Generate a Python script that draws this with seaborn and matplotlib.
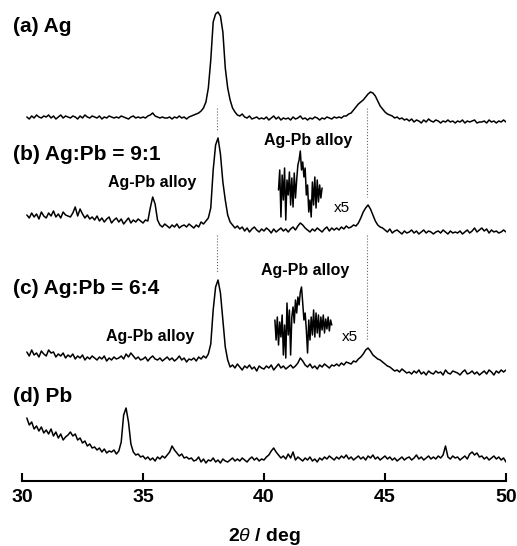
import numpy as np
import matplotlib
matplotlib.use("Agg")
import matplotlib.pyplot as plt
import seaborn as sns

# ---------------------------------- Data ----------------------------------

# 2theta scan grid (deg), 0.1 deg steps
two_theta = np.round(np.arange(302, 501) / 10, 1)

# intensities (a.u.), one row per degree
ag = [3, 1, 4, 2, 5, 3, 2, 4,
      3, 5, 2, 4, 1, 3, 5, 2, 4, 3,
      2, 4, 3, 1, 4, 2, 5, 3, 2, 4,
      3, 2, 4, 1, 3, 2, 4, 3, 2, 3,
      2, 4, 3, 2, 1, 3, 4, 2, 3, 2,
      3, 2, 4, 5, 7, 4, 3, 2, 3, 2,
      2, 3, 1, 3, 2, 4, 2, 3, 1, 3,
      4, 5, 6, 7, 9, 12, 18, 32, 60, 98,
      106, 108, 104, 88, 52, 32, 20, 12, 8, 5,
      4, 6, 3, 2, 4, 1, 2, 3, 1, 2,
      1, 3, 0, 2, 4, 1, 3, 0, 2, 1,
      2, 0, 3, 1, 2, 4, 1, 2, 0, 2,
      1, 3, 2, 0, 2, 1, 3, 2, 1, 3,
      2, 3, 2, 4, 4, 6, 7, 10, 13, 16,
      18, 20, 23, 26, 28, 27, 24, 19, 14, 11,
      8, 6, 5, 4, 2, 3, 1, 2, 0, 1,
      -1, 1, -2, 0, -1, -3, 0, -2, 1, -1,
      -2, 0, -1, -3, -1, -2, 0, -2, -1, -3,
      -1, -2, 0, -3, -1, -2, -1, 0, -3, -2,
      -2, -1, -3, 0, -2, -1, -3, -1, -2, 0,
      -2]

agpb91 = [15, 12, 17, 13, 16, 11, 18, 14,
          12, 17, 14, 19, 13, 16, 12, 18, 15, 14,
          13, 17, 23, 14, 21, 16, 12, 15, 11, 13,
          10, 14, 9, 12, 8, 11, 13, 7, 10, 12,
          8, 11, 6, 9, 12, 7, 10, 8, 11, 9,
          7, 10, 9, 22, 33, 26, 10, 5, 3, 6,
          4, 2, 5, 3, 6, 2, 4, 5, 3, 6,
          4, 2, 5, 3, 8, 6, 9, 12, 22, 60,
          85, 92, 76, 48, 30, 15, 8, 5, 2, 4,
          1, 3, -1, 2, -2, 1, 3, 0, -2, 1,
          -1, 2, 0, -3, 1, -2, 0, 2, -1, 1,
          -2, 1, 3, 0, 4, 7, 5, 2, 0, -2,
          1, -1, 2, 0, -2, 1, 3, -1, 2, 0,
          2, 0, 3, 1, 4, 2, 3, 5, 4, 7,
          12, 18, 22, 25, 21, 15, 9, 5, 3, 2,
          0, -2, 1, -3, -1, 0, -2, -4, -1, -3,
          -2, 0, -3, -1, -4, -2, 0, -3, -1, -2,
          -4, -2, -1, -3, 0, -2, -4, -1, -3, -2,
          -3, -1, -4, -2, 0, -3, -1, 2, -2, 0,
          2, -1, 1, -3, 0, -2, -1, -3, -2, 0,
          -2]

agpb64 = [16, 12, 18, 13, 15, 11, 17, 14,
          12, 18, 15, 16, 11, 14, 12, 15, 10, 13,
          11, 14, 9, 12, 10, 13, 8, 11, 9, 12,
          10, 8, 11, 9, 12, 7, 10, 8, 11, 9,
          10, 12, 9, 14, 11, 15, 12, 9, 11, 8,
          9, 11, 7, 10, 12, 9, 8, 10, 7, 9,
          11, 8, 10, 7, 9, 12, 8, 10, 6, 9,
          8, 10, 7, 11, 9, 12, 10, 14, 24, 58,
          81, 88, 75, 48, 21, 8, 1, 3, 0, 4,
          1, -2, 2, 0, 3, -1, 1, -3, 2, 0,
          -1, 2, 0, 3, -2, 1, 4, 0, 2, -1,
          1, 3, 0, 2, 5, 10, 7, 3, 1, 4,
          0, 2, -1, 3, 1, 4, 2, 0, 3, 2,
          4, 2, 5, 3, 6, 5, 4, 7, 6, 9,
          11, 14, 18, 20, 17, 13, 11, 9, 8, 6,
          4, 2, 1, -1, -3, -2, -4, -1, -3, -5,
          -4, -6, -3, -5, -2, -6, -4, -7, -3, -5,
          -6, -3, -5, -4, -7, -2, -5, -6, -3, -4,
          -5, -7, -4, -2, -6, -5, -3, -6, -4, -7,
          -5, -3, -6, -2, -4, -7, -3, -5, -2, -4,
          -2]

pb = [42, 35, 38, 31, 34, 29, 33, 27,
      30, 26, 31, 24, 28, 22, 26, 20, 23, 25,
      28, 24, 26, 20, 22, 17, 19, 14, 16, 12,
      13, 10, 12, 8, 11, 7, 9, 8, 10, 6,
      9, 18, 45, 52, 38, 16, 8, 5, 6, 3,
      4, 1, 3, 0, 2, -1, 3, 1, 4, 2,
      5, 8, 14, 10, 7, 4, 6, 2, 3, 1,
      2, -1, 0, 3, -2, 1, -3, 0, -1, 2,
      -2, 0, -3, 1, -1, -2, 0, 2, -1, 1,
      -1, 2, 0, -2, 1, 3, 0, 2, -1, 1,
      0, 3, 5, 9, 12, 8, 5, 2, 4, 1,
      6, 2, 8, 0, 3, 1, -1, 2, 0, 3,
      -1, 1, -2, 2, 0, 3, 1, 4, 2, 0,
      3, 1, 4, 2, 5, 1, 3, 0, 2, 4,
      1, 3, 0, 4, 2, 5, 1, 3, 0, 2,
      4, 1, 3, 0, 2, -1, 1, 3, 0, 2,
      3, 0, 2, 5, 1, 3, 0, 2, 4, 1,
      3, 1, 4, 2, 5, 14, 3, 1, 4, 2,
      3, 0, 2, 4, 1, 6, 8, 5, 7, 3,
      4, 1, 3, 0, 2, 4, 1, 3, 0, 2,
      -2]

# x5 magnified alloy region
zoom_91_x = np.round(np.arange(812, 849) / 20, 2)
zoom_91 = [0, 20, -27, 15, -10, 22, -30, 10, -5, 18,
           -15, 12, -17, 17, -8, 10, 25, 30, 39, 20,
           28, 13, 22, -5, 5, -22, -10, -27, 8, -15,
           13, -18, 10, -12, 5, -8, 2]

zoom_64_x = np.round(np.arange(809, 857) / 20, 2)
zoom_64 = [5, -15, 8, -20, 3, -12, 10, -30, 0, -33,
           22, -10, 15, -30, 8, 18, 2, 25, 12, 28,
           20, 33, 38, 22, 5, 12, -5, -28, 5, -15,
           8, -10, 15, -12, 12, -8, 10, -12, 8, -5,
           10, -8, 6, -4, 8, -6, 5, 0]

ag_lines = [38.06, 44.26]
tick_vals = [30, 35, 40, 45, 50]

traces = [ag, agpb91, agpb64, pb]
labels = ["(a) Ag", "(b) Ag:Pb = 9:1", "(c) Ag:Pb = 6:4", "(d) Pb"]

# ---------------------------------- Plot ----------------------------------

sns.set_theme(style="white")
plt.rcParams['font.family'] = ['Liberation Sans', 'DejaVu Sans']
plt.rcParams['mathtext.fontset'] = 'custom'
plt.rcParams['mathtext.it'] = 'Liberation Sans:italic'
plt.rcParams['text.color'] = 'black'

fig = plt.figure(figsize=(5.17, 5.46), dpi=100)
ax = fig.add_axes([22 / 517, 65 / 546, 484 / 517, 481 / 546])

offsets = [361, 251, 113, 21]
for vals, off in zip(traces, offsets):
    sns.lineplot(x=two_theta, y=np.array(vals) + off, ax=ax, color='black',
                 lw=1.1, estimator=None, sort=False)

sns.lineplot(x=zoom_91_x, y=np.array(zoom_91) + 291, ax=ax, color='black',
             lw=1.1, estimator=None, sort=False)
sns.lineplot(x=zoom_64_x, y=np.array(zoom_64) + 156, ax=ax, color='black',
             lw=1.1, estimator=None, sort=False)

# dotted guides through the Ag reflections
for pos in ag_lines:
    i = np.argmin(np.abs(two_theta - pos))
    for upper, lower in [(0, 1), (1, 2)]:
        top = offsets[upper] + 12
        if upper == 1:
            top = offsets[upper] - 5
        bottom = offsets[lower] + traces[lower][i] + 8
        ax.plot([pos, pos], [top, bottom], color='#666666', ls=':', lw=0.8)

# labels
for lab, y in zip(labels, [454, 326, 193, 84]):
    ax.text(29.63, y, lab, fontsize=15, fontweight='bold', ha='left',
            va='center', color='black')

for x, y in [(41.82, 341), (35.37, 298), (41.69, 211), (35.29, 144)]:
    ax.text(x, y, "Ag-Pb alloy", fontsize=11.5, fontweight='bold',
            ha='center', va='center', color='black')
for x, y in [(43.22, 273), (43.55, 144)]:
    ax.text(x, y, "x5", fontsize=11, ha='center', va='center', color='black')

ax.set_xlim(30, 50)
ax.set_ylim(0, 481)
ax.set_xticks(tick_vals)
ax.set_xticklabels([str(t) for t in tick_vals], fontsize=14, fontweight='bold',
                   color='black')
ax.set_yticks([])
ax.set_xlabel(r"2$\theta$ / deg", fontsize=14, fontweight='bold', labelpad=14,
              color='black')
for s in ['left', 'right', 'top']:
    ax.spines[s].set_visible(False)
ax.spines['bottom'].set_linewidth(1.5)
ax.spines['bottom'].set_color('black')
ax.tick_params(axis='x', direction='in', length=5.5, width=1.5, pad=6,
               colors='black', bottom=True)

fig.savefig("out.png", dpi=100)
